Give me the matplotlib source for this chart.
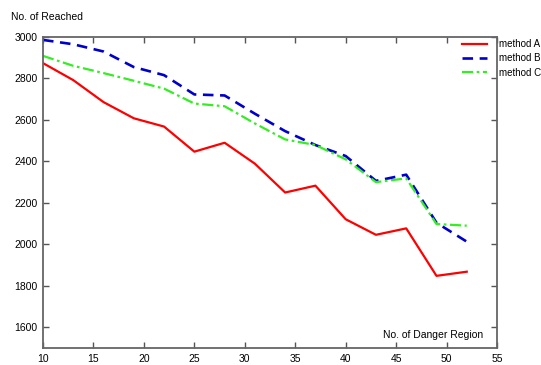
import matplotlib
matplotlib.use("Agg")
import matplotlib.pyplot as plt

plt.rcParams['font.family'] = ['Liberation Sans', 'DejaVu Sans']

x = [10, 13, 16, 19, 22, 25, 28, 31, 34, 37, 40, 43, 46, 49, 52]
method_a = [2874, 2792, 2686, 2608, 2568, 2447, 2490, 2389, 2250, 2283, 2121, 2046, 2077, 1848, 1868]
method_b = [2986, 2965, 2930, 2855, 2816, 2723, 2718, 2630, 2546, 2479, 2426, 2306, 2336, 2104, 2013]
method_c = [2909, 2861, 2826, 2789, 2751, 2679, 2666, 2583, 2506, 2479, 2410, 2300, 2318, 2098, 2090]
labels = ["method A", "method B", "method C"]
xticks = [10, 15, 20, 25, 30, 35, 40, 45, 50, 55]
yticks = [1600, 1800, 2000, 2200, 2400, 2600, 2800, 3000]

fig = plt.figure(figsize=(5.41, 3.65), dpi=100)
ax = fig.add_axes([0.0795, 0.0466, 0.8392, 0.852])

ax.plot(x, method_a, color='#ff0000', lw=1.6, label=labels[0])
ax.plot(x, method_b, color='#0000cc', lw=1.9, dashes=(4, 2.5), label=labels[1])
ax.plot(x, method_c, color='#33ee22', lw=1.6, dashes=(5, 1.6, 1.2, 1.6), label=labels[2])

ax.set_xlim(10, 55)
ax.set_ylim(1500, 3000)
ax.set_xticks(xticks)
ax.set_yticks(yticks)
ax.tick_params(direction='in', length=4, width=1, colors='#555555', labelcolor='black',
               labelsize=7.5, top=True, right=True, pad=4)
for s in ax.spines.values():
    s.set_color('#666666')
    s.set_linewidth(1.3)

fig.text(11/541, 1 - 17/365, "No. of Reached", fontsize=7.5, va='center', ha='left')
ax.text(483/541, 1 - 335/365, "No. of Danger Region", fontsize=7.5, va='center', ha='right',
        transform=fig.transFigure)

leg = ax.legend(loc='upper left', bbox_to_anchor=(462/541, 1 - 39/365),
                bbox_transform=fig.transFigure, frameon=False, fontsize=7,
                handlelength=2.6, handletextpad=1.2, labelspacing=0.45,
                borderaxespad=0, borderpad=0)

fig.savefig("out.png", dpi=100)
